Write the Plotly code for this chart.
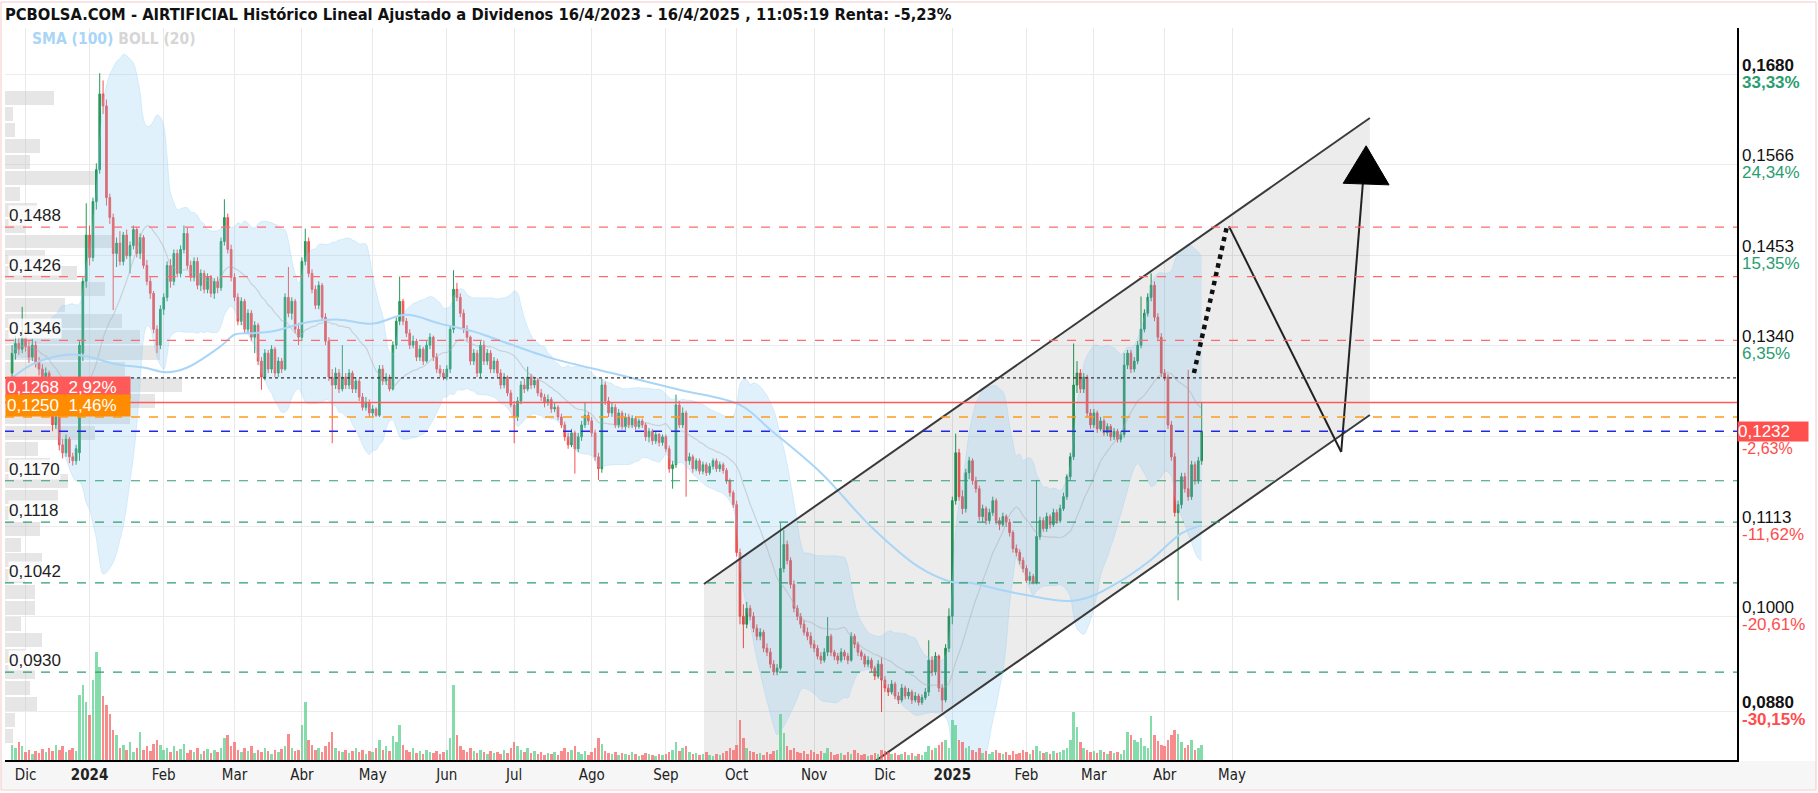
import pandas as pd
import numpy as np
import plotly.graph_objects as go

# ---------------- DATA (prices in units of 0.0001) ----------------
opens = [
 1305,1330,1342,1335,1350,1338,1325,1340,1318,1310,1298,1305,1270,1240,1250,1215,1205,1222,1200,1195,1205,1330,1420,
 1478,1450,1520,1560,1655,1640,1525,1500,1455,1468,1445,1478,1452,1465,1485,1455,1475,1440,1420,1405,1360,1340,
 1385,1400,1440,1420,1455,1430,1460,1480,1440,1425,1445,1415,1430,1410,1425,1405,1420,1412,1470,1500,1460,
 1425,1400,1370,1395,1360,1380,1350,1365,1320,1300,1330,1310,1335,1305,1320,1310,1400,1380,1395,1360,
 1350,1445,1470,1430,1410,1390,1415,1375,1345,1300,1290,1305,1285,1300,1290,1305,1285,1295,1275,1262,1268,
 1255,1260,1252,1310,1295,1300,1285,1340,1370,1395,1370,1355,1340,1345,1325,1335,1320,1340,1350,1325,1310,1305,
 1300,1310,1360,1410,1400,1380,1360,1350,1320,1330,1305,1340,1320,1330,1310,1320,1305,1290,1300,1280,
 1265,1250,1270,1290,1285,1300,1290,1296,1280,1275,1268,1272,1260,1262,1250,1240,1225,1215,1230,1210,1225,1240,1252,
 1245,1230,1200,1185,1290,1270,1255,1262,1240,1255,1238,1250,1240,1248,1238,1245,1240,1225,1232,1220,1228,1218,
 1225,1210,1185,1190,1265,1240,1255,1195,1200,1185,1195,1182,1190,1180,1188,1195,1185,1190,1183,1170,1155,
 1140,1080,1000,990,1010,1000,985,975,980,960,955,940,930,935,1060,1090,1070,1040,1010,1000,990,980,975,
 965,960,950,945,955,975,955,950,945,955,950,945,975,965,955,950,940,945,935,925,940,
 920,910,905,915,900,895,910,900,905,895,900,892,898,905,945,930,950,910,895,960,
 1000,1145,1205,1150,1135,1180,1195,1170,1160,1125,1135,1120,1130,1145,1120,1115,1125,1118,1105,1085,1080,1070,
 1060,1045,1050,1042,1100,1120,1110,1125,1115,1130,1120,1135,1150,1175,1200,1290,1305,1285,1300,1255,
 1240,1255,1235,1245,1230,1238,1225,1232,1222,1228,1315,1330,1310,1320,1340,1360,1380,1400,1415,1375,1350,
 1305,1300,1240,1200,1130,1140,1175,1160,1150,1190,1170,1195,
]
highs = [
 1340,1352,1350,1388,1360,1345,1348,1345,1325,1316,1312,1308,1275,1258,1252,1222,1228,1225,1205,1215,1345,1425,1518,
 1490,1525,1568,1681,1672,1648,1530,1505,1475,1483,1482,1485,1470,1490,1488,1480,1478,1447,1425,1408,1365,1390,
 1405,1445,1448,1460,1460,1465,1490,1487,1446,1450,1450,1435,1434,1430,1428,1424,1426,1475,1523,1505,1466,
 1430,1405,1400,1398,1385,1384,1370,1368,1325,1335,1334,1340,1338,1325,1324,1405,1438,1400,1398,1368,
 1450,1486,1475,1435,1415,1420,1418,1380,1350,1310,1312,1310,1340,1305,1310,1308,1300,1298,1280,1275,1272,
 1265,1262,1315,1315,1305,1303,1345,1375,1426,1398,1374,1360,1352,1348,1340,1338,1345,1355,1352,1330,1315,1310,
 1315,1365,1434,1418,1405,1385,1365,1352,1335,1334,1345,1346,1335,1334,1325,1323,1310,1305,1302,1284,
 1270,1275,1295,1298,1313,1304,1300,1299,1285,1279,1278,1275,1268,1265,1254,1244,1230,1235,1233,1230,1245,1268,1256,
 1250,1234,1205,1298,1294,1275,1268,1266,1260,1258,1255,1254,1252,1251,1248,1248,1243,1236,1235,1232,1230,1228,
 1228,1214,1195,1278,1270,1262,1258,1205,1203,1198,1198,1194,1193,1192,1198,1198,1194,1193,1186,1173,1158,
 1145,1085,1015,1018,1014,1005,990,985,983,966,960,945,940,1117,1108,1095,1074,1045,1014,1004,995,986,980,
 970,964,955,960,999,978,958,954,960,958,954,980,978,968,958,953,950,948,938,945,948,
 925,915,920,918,905,915,913,910,908,905,903,902,910,970,950,955,952,915,965,1010,
 1150,1229,1210,1158,1185,1200,1198,1175,1164,1140,1138,1135,1150,1148,1124,1130,1128,1122,1108,1090,1084,1074,
 1064,1056,1053,1171,1125,1124,1130,1128,1135,1134,1140,1155,1178,1205,1342,1320,1310,1305,1303,1260,
 1260,1258,1250,1248,1242,1241,1236,1235,1232,1330,1334,1334,1325,1345,1401,1385,1405,1430,1420,1380,1355,
 1310,1304,1245,1205,1145,1180,1180,1309,1195,1194,1200,1268,
]
lows = [
 1300,1322,1328,1330,1332,1318,1320,1312,1302,1292,1290,1262,1232,1235,1208,1198,1200,1192,1189,1190,1195,1320,1412,
 1440,1445,1510,1555,1630,1515,1492,1384,1438,1440,1440,1448,1430,1460,1450,1448,1436,1415,1398,1355,1330,1335,
 1378,1395,1412,1415,1425,1425,1455,1435,1420,1420,1410,1408,1405,1405,1400,1398,1405,1408,1465,1455,1420,
 1395,1365,1365,1355,1355,1345,1330,1315,1284,1296,1305,1305,1300,1300,1305,1308,1375,1372,1355,1340,
 1345,1440,1425,1405,1385,1385,1370,1340,1295,1217,1285,1280,1282,1285,1285,1280,1280,1270,1258,1258,1250,
 1250,1250,1250,1290,1290,1282,1283,1335,1365,1365,1350,1335,1336,1320,1320,1315,1318,1335,1320,1305,1300,1296,
 1296,1305,1355,1395,1375,1355,1345,1315,1315,1300,1300,1315,1315,1305,1305,1300,1285,1286,1276,1262,
 1217,1245,1266,1280,1282,1285,1286,1276,1270,1262,1264,1255,1256,1246,1236,1220,1210,1212,1179,1206,1220,1236,1240,
 1225,1195,1171,1180,1265,1250,1250,1236,1236,1234,1234,1236,1236,1234,1235,1236,1220,1218,1215,1216,1213,1214,
 1206,1180,1160,1186,1236,1236,1150,1190,1180,1182,1178,1178,1176,1177,1184,1181,1181,1179,1166,1150,1136,
 1075,990,960,985,995,980,970,970,955,950,935,926,926,932,1055,1065,1035,1005,995,985,976,970,960,
 955,946,940,942,950,950,945,940,942,945,940,943,960,950,945,936,936,930,920,922,880,
 905,900,902,896,890,892,896,896,890,892,888,889,895,900,925,926,905,880,892,955,
 990,1140,1145,1128,1130,1172,1165,1155,1120,1118,1115,1116,1126,1115,1108,1112,1112,1100,1080,1075,1065,1055,
 1042,1040,1040,1040,1096,1106,1106,1110,1112,1116,1117,1132,1146,1170,1196,1280,1280,1280,1250,1235,
 1236,1230,1232,1226,1226,1220,1221,1218,1218,1224,1310,1305,1306,1316,1336,1356,1376,1395,1370,1345,1300,
 1295,1235,1195,1125,1020,1135,1155,1145,1146,1165,1166,1190,
]
closes = [
 1330,1342,1335,1350,1338,1325,1340,1318,1310,1298,1305,1270,1240,1250,1215,1205,1222,1200,1195,1210,1340,1420,1478,
 1450,1520,1560,1655,1640,1525,1500,1455,1468,1445,1478,1452,1465,1485,1455,1475,1440,1420,1405,1360,1340,1385,
 1400,1440,1420,1455,1430,1460,1480,1440,1425,1445,1415,1430,1410,1425,1405,1420,1412,1470,1500,1460,1425,
 1400,1370,1395,1360,1380,1350,1365,1320,1300,1330,1310,1335,1305,1320,1310,1400,1380,1395,1360,1350,
 1445,1470,1430,1410,1390,1415,1375,1345,1300,1290,1305,1285,1300,1290,1305,1285,1295,1275,1262,1268,1255,
 1260,1252,1310,1295,1300,1285,1340,1370,1395,1370,1355,1340,1345,1325,1335,1320,1340,1350,1325,1310,1305,1300,
 1310,1360,1410,1400,1380,1360,1350,1320,1330,1305,1340,1320,1330,1310,1320,1305,1290,1300,1280,1265,
 1250,1270,1290,1285,1300,1290,1296,1280,1275,1268,1272,1260,1262,1250,1240,1225,1215,1230,1210,1225,1240,1252,1245,
 1230,1200,1185,1290,1270,1255,1262,1240,1255,1238,1250,1240,1248,1238,1245,1240,1225,1232,1220,1228,1218,1225,
 1210,1185,1190,1265,1240,1255,1195,1200,1185,1195,1182,1190,1180,1188,1195,1185,1190,1183,1170,1155,1140,
 1080,1000,990,1010,1000,985,975,980,960,955,940,930,935,1060,1090,1070,1040,1010,1000,990,980,975,965,
 960,950,945,955,975,955,950,945,955,950,945,975,965,955,950,940,945,935,925,940,920,
 910,905,915,900,895,910,900,905,895,900,892,898,905,945,930,950,910,895,960,1000,
 1145,1205,1150,1135,1180,1195,1170,1160,1125,1135,1120,1130,1145,1120,1115,1125,1118,1105,1085,1080,1070,1060,
 1045,1050,1042,1100,1120,1110,1125,1115,1130,1120,1135,1150,1175,1200,1290,1305,1285,1300,1255,1240,
 1255,1235,1245,1230,1238,1225,1232,1222,1228,1315,1330,1310,1320,1340,1360,1380,1400,1415,1375,1350,1305,
 1300,1240,1200,1130,1140,1175,1160,1150,1190,1170,1195,1232,
]
volumes = [
 15,12,18,14,8,10,6,9,7,11,8,12,9,15,10,14,8,10,12,9,65,75,58,
 45,80,108,93,64,55,46,30,25,12,15,10,18,8,12,28,10,14,9,16,20,15,
 10,12,8,14,9,11,16,7,10,8,12,6,9,11,7,10,8,12,22,25,14,
 18,10,8,12,9,14,7,10,8,12,9,6,10,8,11,14,26,12,9,10,
 35,58,20,15,10,12,8,14,18,28,12,9,8,10,7,9,12,8,10,6,9,
 8,12,20,10,14,9,24,18,35,15,10,8,12,7,9,6,10,8,7,9,6,8,
 10,22,75,25,14,10,8,12,9,7,10,8,6,9,7,8,6,10,7,12,
 18,14,10,8,12,7,9,6,8,5,7,6,8,5,9,12,8,10,14,8,6,9,5,
 8,12,22,16,9,7,6,8,5,7,6,5,8,6,4,5,7,6,5,4,6,5,
 6,8,10,18,9,12,14,8,6,7,5,6,8,5,4,6,5,7,9,12,10,
 15,40,22,12,9,8,6,7,5,8,6,9,10,46,27,14,10,12,8,7,9,6,10,
 8,6,9,7,12,8,5,6,7,5,8,6,10,7,5,6,4,5,7,6,10,
 9,8,6,7,5,6,8,5,7,4,6,5,8,14,10,12,15,18,20,12,
 40,35,20,18,12,14,10,8,12,7,9,6,8,10,7,6,8,5,9,6,7,10,
 8,6,10,14,9,7,8,6,9,7,8,10,12,20,48,33,18,12,10,8,
 9,7,10,8,6,9,7,8,6,10,28,25,20,18,22,14,12,44,25,19,15,
 14,20,25,30,26,18,12,15,20,10,12,15,
]
lens = [len(opens), len(highs), len(lows), len(closes), len(volumes)]
assert len(set(lens)) == 1, f"length mismatch {lens}"

# SMA(100): trading-day index, value (0.0001 units)
sma_idx = [0, 6, 16, 22, 31, 39, 46, 52, 62, 66, 71, 77, 88, 97, 107, 117, 127, 137, 142,
           159, 178, 198, 216, 225, 240, 255, 269, 279, 284, 298, 316, 328, 338, 347, 353]
sma_val = [1299, 1316, 1328, 1326, 1316, 1312, 1306, 1312, 1339, 1353, 1355, 1357, 1369, 1372, 1367, 1378, 1367, 1357, 1350,
           1325, 1305, 1284, 1265, 1234, 1180, 1112, 1062, 1043, 1042, 1029, 1020, 1042, 1071, 1104, 1114]

# Volume profile (price centre, relative volume)
prof_price = [1650, 1630, 1610, 1590, 1570, 1550, 1530, 1510, 1490, 1470, 1450, 1430, 1410, 1390, 1370, 1350,
              1330, 1310, 1290, 1270, 1250, 1230, 1210, 1190, 1170, 1150, 1130, 1110, 1090, 1070, 1050, 1030,
              1010, 990, 970, 950, 930, 910, 890, 870, 850]
prof_vol = [49, 8, 10, 35, 25, 90, 15, 32, 20, 107, 40, 72, 100, 60, 117, 135,
            155, 120, 177, 150, 125, 90, 33, 45, 63, 53, 20, 35, 16, 37, 20, 30,
            30, 16, 37, 20, 30, 25, 32, 10, 8]

# Levels
res_levels = [0.1488, 0.1426, 0.1346]
sup_levels = [0.1170, 0.1118, 0.1042, 0.0930]
dotted_level = 0.1299
alert_red = 0.1268
alert_orange = 0.1250
last_price = 0.1232

# right-axis ticks
rt_prices = [0.1680, 0.1566, 0.1453, 0.1340, 0.1113, 0.1000, 0.0880]
rt_pcts = ["33,33%", "24,34%", "15,35%", "6,35%", "-11,62%", "-20,61%", "-30,15%"]
grid_prices = rt_prices + [0.1226]

# hand drawn channel & projection (trading-day index, price)
chan_up_x, chan_up_y = [205.3, 402.9], [0.10405, 0.16248]
chan_lo_x, chan_lo_y = [205.3, 402.9], [0.0668, 0.12524]
proj_dot_x, proj_dot_y = [350.7, 360.5], [0.1305, 0.1489]
proj_down_x, proj_down_y = [361.1, 394.4], [0.1489, 0.1206]
proj_up_x, proj_up_y = [394.4, 400.9], [0.1206, 0.1547]
head_x, head_y = [395.0, 401.8, 408.6], [0.1543, 0.1590, 0.1541]

# ---------------- calendar ----------------
holidays = ["2023-12-25", "2023-12-26", "2024-01-01", "2024-03-29", "2024-04-01", "2024-05-01",
            "2024-12-25", "2024-12-26", "2025-01-01", "2025-04-18", "2025-04-21", "2025-05-01"]
cal = pd.bdate_range("2023-11-27", "2025-12-31", freq="C", holidays=holidays)
N = len(closes)
x = np.arange(N)
mes = {1: "Ene", 2: "Feb", 3: "Mar", 4: "Abr", 5: "May", 6: "Jun", 7: "Jul", 8: "Ago",
       9: "Sep", 10: "Oct", 11: "Nov", 12: "Dic"}
tickvals, ticktext = [], []
prev = None
for i, d in enumerate(cal):
    key = (d.year, d.month)
    if key != prev:
        prev = key
        if pd.Timestamp("2023-12-01") <= d <= pd.Timestamp("2025-05-31"):
            tickvals.append(i)
            ticktext.append(f"<b>{d.year}</b>" if d.month == 1 else mes[d.month])

O = np.array(opens) / 1e4
H = np.array(highs) / 1e4
L = np.array(lows) / 1e4
C = np.array(closes) / 1e4

s = pd.Series(C)
mid = s.rolling(20, min_periods=1).mean()
sd = s.rolling(20, min_periods=1).std(ddof=0).fillna(0)
bb_up = mid + 2 * sd
bb_lo = mid - 2 * sd

W, Hh = 1818, 793
ML, MR, MT, MB = 5, 81, 28, 33
PW, PH = W - ML - MR, Hh - MT - MB
YMIN, YMAX = 0.08198, 0.17377
XMIN = -2.1
XMAX = XMIN + PW / 3.37

GREEN = "#25995a"
RED = "#f4524f"
NARROW = "Liberation Sans Narrow, Arial Narrow, DejaVu Sans Condensed, sans-serif"
SANS = "Liberation Sans, Arial, sans-serif"

fig = go.Figure()

# volume profile (horizontal bars from the left edge)
fig.add_trace(go.Bar(
    y=np.array(prof_price) / 1e4, x=np.array(prof_vol) / 3.37, base=XMIN, orientation="h",
    width=0.00175, marker=dict(color="rgba(200,200,200,0.45)", line=dict(width=0)),
    hoverinfo="skip", showlegend=False))

# channel fill
fig.add_trace(go.Scatter(
    x=[chan_up_x[0], chan_up_x[1], chan_lo_x[1], chan_lo_x[0], chan_up_x[0]],
    y=[chan_up_y[0], chan_up_y[1], chan_lo_y[1], chan_lo_y[0], chan_up_y[0]],
    fill="toself", fillcolor="rgba(0,0,0,0.075)", line=dict(width=0), mode="lines",
    hoverinfo="skip", showlegend=False))

# Bollinger band
fig.add_trace(go.Scatter(x=x, y=bb_lo, mode="lines", line=dict(color="rgba(135,200,245,0.35)", width=0.8, shape="spline"),
                         hoverinfo="skip", showlegend=False))
fig.add_trace(go.Scatter(x=x, y=bb_up, mode="lines", line=dict(color="rgba(135,200,245,0.35)", width=0.8, shape="spline"),
                         fill="tonexty", fillcolor="rgba(135,200,245,0.25)", hoverinfo="skip", showlegend=False))
fig.add_trace(go.Scatter(x=x, y=mid, mode="lines", line=dict(color="rgba(170,170,170,0.45)", width=1.2, shape="spline"),
                         hoverinfo="skip", showlegend=False))
# SMA 100
fig.add_trace(go.Scatter(x=sma_idx, y=np.array(sma_val) / 1e4, mode="lines",
                         line=dict(color="#a9d5f7", width=2, shape="spline"), hoverinfo="skip", showlegend=False))

# candles
fig.add_trace(go.Candlestick(
    x=x, open=O, high=H, low=L, close=C,
    increasing=dict(line=dict(color=GREEN, width=1), fillcolor=GREEN),
    decreasing=dict(line=dict(color=RED, width=1), fillcolor=RED),
    whiskerwidth=0, showlegend=False))

# volume
vcol = ["rgba(80,205,135,0.7)" if c >= o else "rgba(245,95,95,0.72)" for o, c in zip(opens, closes)]
fig.add_trace(go.Bar(x=x, y=volumes, yaxis="y2", marker=dict(color=vcol, line=dict(width=0)),
                     width=0.75, hoverinfo="skip", showlegend=False))

# channel lines and projection
fig.add_trace(go.Scatter(x=chan_up_x, y=chan_up_y, mode="lines", line=dict(color="#3a3a3a", width=2),
                         hoverinfo="skip", showlegend=False))
fig.add_trace(go.Scatter(x=chan_lo_x, y=chan_lo_y, mode="lines", line=dict(color="#3a3a3a", width=2),
                         hoverinfo="skip", showlegend=False))
fig.add_trace(go.Scatter(x=proj_dot_x, y=proj_dot_y, mode="lines", line=dict(color="#111", width=4.5, dash="dot"),
                         hoverinfo="skip", showlegend=False))
fig.add_trace(go.Scatter(x=proj_down_x, y=proj_down_y, mode="lines", line=dict(color="#222", width=2),
                         hoverinfo="skip", showlegend=False))
fig.add_trace(go.Scatter(x=proj_up_x, y=proj_up_y, mode="lines", line=dict(color="#222", width=2),
                         hoverinfo="skip", showlegend=False))
fig.add_trace(go.Scatter(x=head_x + [head_x[0]], y=head_y + [head_y[0]], mode="lines", fill="toself",
                         fillcolor="#000", line=dict(color="#000", width=1), hoverinfo="skip", showlegend=False))

shapes = []
def hline(y, color, dash, width=1.2):
    shapes.append(dict(type="line", xref="paper", x0=0, x1=1, yref="y", y0=y, y1=y,
                       line=dict(color=color, width=width, dash=dash)))
for lv in res_levels:
    hline(lv, "#ff6b6b", "dash")
for lv in sup_levels:
    hline(lv, "#2f9e74", "dash")
hline(dotted_level, "#333333", "dot", 1.3)
hline(alert_red, "#ff5a5a", "solid", 1.5)
hline(alert_orange, "#ff9a1a", "dash", 1.5)
hline(last_price, "#2626e6", "dash", 1.5)

# bottom band and border
px = lambda X: (X - ML) / PW
py = lambda Y: (Hh - MB - Y) / PH
shapes.append(dict(type="rect", xref="paper", yref="paper", x0=px(1), x1=px(1816), y0=py(789), y1=py(761),
                   fillcolor="#f6f6f6", line=dict(width=0), layer="below"))
shapes.append(dict(type="rect", xref="paper", yref="paper", x0=px(1), x1=px(1816), y0=py(790), y1=py(2),
                   fillcolor="rgba(0,0,0,0)", line=dict(color="#f2caca", width=1)))

ann = []
# title
ann.append(dict(xref="paper", yref="paper", x=px(3), y=py(15), xanchor="left", yanchor="middle", showarrow=False,
                text="<b>PCBOLSA.COM - AIRTIFICIAL Histórico Lineal Ajustado a Dividenos 16/4/2023 - 16/4/2025 , 11:05:19 Renta: -5,23%</b>",
                font=dict(family=NARROW, size=16.4, color="#111")))
ann.append(dict(xref="paper", yref="paper", x=px(30), y=py(39), xanchor="left", yanchor="middle", showarrow=False,
                text="<b><span style='color:#a9d5f7'>SMA (100)</span> <span style='color:#d6d6d6'>BOLL (20)</span></b>",
                font=dict(family=NARROW, size=15.5)))
# left level labels
for lv in res_levels + sup_levels:
    ann.append(dict(xref="paper", yref="y", x=px(8), y=lv, xanchor="left", yanchor="bottom", showarrow=False,
                    text=f"{lv:.4f}".replace(".", ","), font=dict(family=SANS, size=17, color="#222"),
                    bgcolor="rgba(255,255,255,0.8)", borderpad=0, yshift=1))
ann.append(dict(xref="paper", yref="y", x=0, y=alert_red, xanchor="left", yanchor="bottom", showarrow=False,
                text="0,1268  2,92%", font=dict(family=SANS, size=17, color="white"), bgcolor="#ff5a5a",
                width=122, align="left", borderpad=1, yshift=4))
ann.append(dict(xref="paper", yref="y", x=0, y=alert_orange, xanchor="left", yanchor="bottom", showarrow=False,
                text="0,1250  1,46%", font=dict(family=SANS, size=17, color="white"), bgcolor="#ff8c00",
                width=122, align="left", borderpad=1, yshift=0))
# right axis labels (price above, percentage below each grid line)
for p, t in zip(rt_prices, rt_pcts):
    pc = "#2a9d6f" if not t.startswith("-") else "#ff4d4d"
    bold = p in (max(rt_prices), min(rt_prices))
    ptxt = f"{p:.4f}".replace(".", ",")
    ann.append(dict(xref="paper", yref="y", x=1, y=p, xanchor="left", yanchor="middle", showarrow=False,
                    xshift=3, yshift=9, text=f"<b>{ptxt}</b>" if bold else ptxt,
                    font=dict(family=SANS, size=17, color="#111")))
    ann.append(dict(xref="paper", yref="y", x=1, y=p, xanchor="left", yanchor="middle", showarrow=False,
                    xshift=3, yshift=-8, text=f"<b>{t}</b>" if bold else t,
                    font=dict(family=SANS, size=17, color=pc)))
ann.append(dict(xref="paper", yref="y", x=1, y=last_price, xanchor="left", yanchor="middle", showarrow=False,
                xshift=3, yshift=-17, text="-2,63%", font=dict(family=SANS, size=16, color="#ff4d4d")))
ann.append(dict(xref="paper", yref="y", x=1, y=last_price, xanchor="left", yanchor="middle", showarrow=False,
                xshift=0, text="0,1232", font=dict(family=SANS, size=17, color="white"), bgcolor="#ff5050",
                width=70, align="left", borderpad=0))

fig.update_layout(
    width=W, height=Hh, margin=dict(l=ML, r=MR, t=MT, b=MB, autoexpand=False),
    paper_bgcolor="white", plot_bgcolor="white",
    shapes=shapes, annotations=ann, bargap=0, barmode="overlay",
    xaxis=dict(range=[XMIN, XMAX], tickvals=tickvals, ticktext=ticktext, showgrid=True, gridcolor="#e9e9e9",
               gridwidth=1, zeroline=False, showline=True, linecolor="#000", linewidth=1.5, ticks="",
               automargin=False, tickfont=dict(family=NARROW, size=15, color="#222"),
               rangeslider=dict(visible=False)),
    yaxis=dict(range=[YMIN, YMAX], side="right", tickvals=grid_prices, showticklabels=False, showgrid=True,
               automargin=False, gridcolor="#ececec", zeroline=False, showline=True, linecolor="#000",
               linewidth=1.5, ticks=""),
    yaxis2=dict(range=[0, PH], overlaying="y", visible=False, fixedrange=True),
    hovermode=False,
)

fig.write_html("out.html", config={"displayModeBar": False},
               post_script="document.body.style.margin='0';document.body.style.overflow='hidden';")
